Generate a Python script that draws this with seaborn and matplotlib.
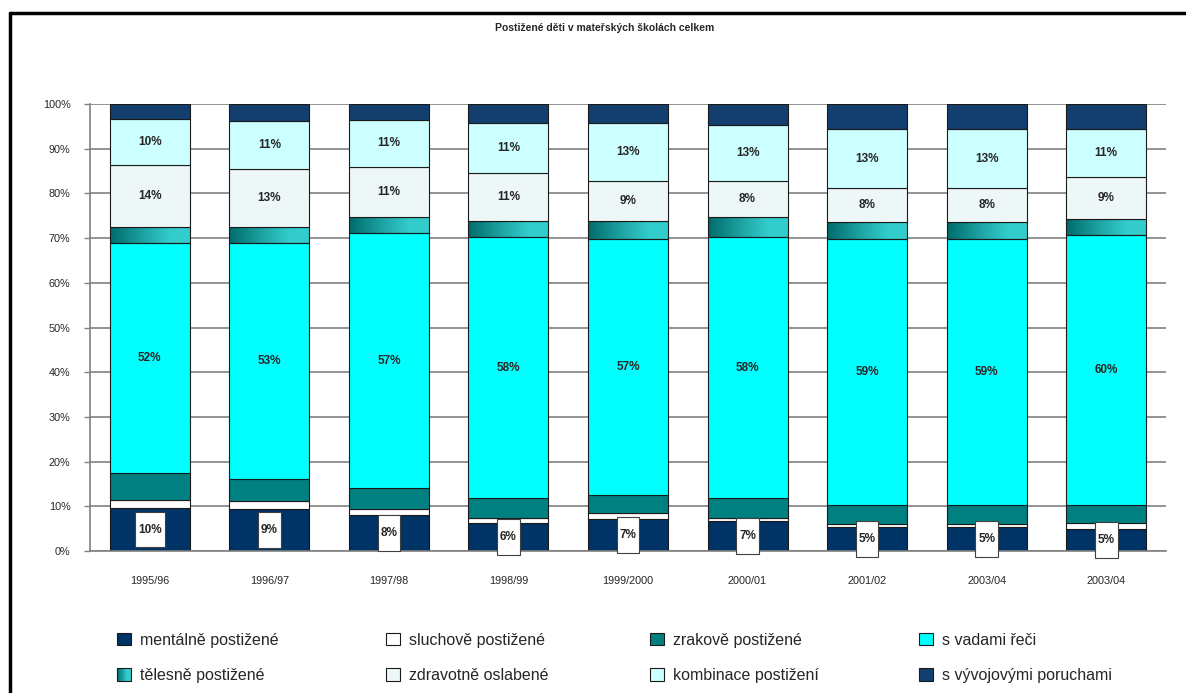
import numpy as np
import pandas as pd
import matplotlib
matplotlib.use("Agg")
import matplotlib.pyplot as plt
import seaborn as sns
import matplotlib.font_manager as fm
from matplotlib.patches import Rectangle, Patch
from matplotlib.lines import Line2D
from matplotlib.colors import LinearSegmentedColormap
from matplotlib.legend_handler import HandlerBase

# data (share of children, %)
years = ["1995/96", "1996/97", "1997/98", "1998/99", "1999/2000",
         "2000/01", "2001/02", "2003/04", "2003/04"]
mentalne = [9.6, 9.4, 8.1, 6.3, 7.2, 6.7, 5.4, 5.4, 4.9]
sluchove = [1.7, 1.8, 1.3, 1.1, 1.3, 0.7, 0.6, 0.6, 1.4]
zrakove = [6.1, 4.9, 4.7, 4.5, 4.0, 4.4, 4.3, 4.3, 3.9]
vady_reci = [51.5, 52.8, 57.0, 58.3, 57.3, 58.4, 59.4, 59.4, 60.4]
telesne = [3.6, 3.6, 3.6, 3.6, 4.0, 4.5, 4.0, 4.0, 3.6]
zdravotne = [13.9, 13.0, 11.2, 10.8, 9.0, 8.1, 7.6, 7.6, 9.4]
kombinace = [10.2, 10.7, 10.6, 11.1, 12.9, 12.6, 13.0, 13.0, 10.9]
vyvojove = [3.4, 3.8, 3.5, 4.3, 4.3, 4.6, 5.7, 5.7, 5.5]

series_names = ["mentálně postižené", "sluchově postižené", "zrakově postižené",
                "s vadami řeči", "tělesně postižené", "zdravotně oslabené",
                "kombinace postižení", "s vývojovými poruchami"]
title = "Postižené děti v mateřských školách celkem"

# colours
barvy = ["#003366", "#FFFFFF", "#008080", "#00FFFF", "#33CCCC", "#EEF7F7", "#CCFFFF", "#133F6E"]
grad_cmap = LinearSegmentedColormap.from_list(
    "telesne", [(0.0, "#006B6B"), (0.45, "#20A8A8"), (0.75, "#33CCCC"), (1.0, "#33CCCC")])

sns.set_style("white")
plt.rcParams["font.family"] = ["Liberation Sans", "DejaVu Sans"]
installed = {f.name for f in fm.fontManager.ttflist}
if "Liberation Sans Narrow" in installed:
    lab_font = ["Liberation Sans Narrow", "Liberation Sans"]
    lab_size = 11
else:
    lab_font = ["Liberation Sans", "DejaVu Sans"]
    lab_size = 8.5

W, H = 1186, 693
fig = plt.figure(figsize=(W / 100, H / 100), dpi=100)
ax = fig.add_axes([90 / W, 1 - 551 / H, (1166 - 90) / W, (551 - 104) / H])

pos = np.arange(len(years))
vrstvy = [mentalne, sluchove, zrakove, vady_reci, telesne, zdravotne, kombinace, vyvojove]
df = pd.DataFrame({"pos": pos})
for name, vals in zip(series_names, vrstvy):
    df[name] = vals

bottom = np.zeros(len(years))
spodky = []
for k, name in enumerate(series_names):
    vals = df[name].values
    sns.barplot(x=df["pos"], y=vals, bottom=bottom, color=barvy[k], saturation=1,
                width=0.67, edgecolor="#1a1a1a", linewidth=0.8, errorbar=None,
                ax=ax, zorder=2)
    if k == 4:
        # gradient fill for "tělesně postižené"
        grad = np.linspace(0, 1, 256).reshape(1, -1)
        for p in ax.containers[-1].patches:
            x0, y0 = p.get_x(), p.get_y()
            ax.imshow(grad, extent=(x0, x0 + p.get_width(), y0, y0 + p.get_height()),
                      cmap=grad_cmap, aspect="auto", zorder=1.9, interpolation="bilinear")
            p.set_facecolor("none")
    spodky.append(bottom.copy())
    bottom = bottom + vals

ax.set_xlim(-0.5, len(years) - 0.5)
ax.set_ylim(0, 100)

# value labels
for i in range(len(years)):
    v = mentalne[i]
    lab = f"{round(v)}%"
    w = 0.25 if len(lab) > 2 else 0.19
    ax.add_patch(Rectangle((i - w / 2, v / 2 - 4), w, 8, facecolor="white",
                           edgecolor="#404040", lw=0.8, zorder=4, clip_on=False))
    ax.text(i, v / 2, lab, ha="center", va="center", fontsize=lab_size,
            fontweight="bold", family=lab_font, zorder=5)
    for k in (3, 5, 6):
        vv = vrstvy[k][i]
        ax.text(i, spodky[k][i] + vv / 2, f"{round(vv)}%", ha="center", va="center",
                fontsize=lab_size, fontweight="bold", family=lab_font, zorder=5)

# axes styling
ax.set_axisbelow(True)
ax.yaxis.grid(True, color="#808080", linewidth=1.2)
ax.set_yticks(np.arange(0, 101, 10))
ax.set_yticklabels([f"{t}%" for t in range(0, 101, 10)])
ax.set_xticks(pos)
ax.set_xticklabels(years)
ax.set_xticks(np.arange(-0.5, len(years), 1), minor=True)
ax.tick_params(axis="x", which="major", length=0, pad=18, labelsize=7.8)
ax.tick_params(axis="x", which="minor", length=4, color="#808080", width=1, direction="out")
ax.tick_params(axis="y", length=4, color="#808080", width=1, pad=10, labelsize=7.8, left=True)
ax.set_xlabel("")
ax.set_ylabel("")
for s in ("top", "right"):
    ax.spines[s].set_visible(False)
for s in ("left", "bottom"):
    ax.spines[s].set_color("#808080")
    ax.spines[s].set_linewidth(1.2)

fig.text(605 / W, 1 - 28 / H, title, ha="center", va="center",
         fontsize=7.5, fontweight="bold")


# legend
class GradientHandler(HandlerBase):
    def create_artists(self, legend, orig_handle, xdescent, ydescent, width, height, fontsize, trans):
        arts = []
        n = 12
        for j in range(n):
            arts.append(Rectangle((-xdescent + j * width / n, -ydescent), width / n + 0.3, height,
                                  facecolor=grad_cmap(j / (n - 1)), edgecolor="none", transform=trans))
        arts.append(Rectangle((-xdescent, -ydescent), width, height, facecolor="none",
                              edgecolor="#1a1a1a", lw=0.8, transform=trans))
        return arts


handles = [Patch(facecolor=barvy[k], edgecolor="#1a1a1a", lw=0.8) for k in range(8)]
grad_handle = handles[4]
col_x = [117, 386, 650, 919]
for c in range(4):
    leg = fig.legend([handles[c], handles[c + 4]], [series_names[c], series_names[c + 4]],
                     loc="center left", bbox_to_anchor=(col_x[c] / W, 1 - 658 / H),
                     frameon=False, fontsize=11.5, handlelength=0.85, handleheight=0.85,
                     handletextpad=0.6, labelspacing=1.3, borderpad=0, borderaxespad=0,
                     handler_map={grad_handle: GradientHandler()})

# outer frame (left and top edge)
fig.add_artist(Line2D([10 / W, 10 / W], [0, 1 - 13 / H], color="black", lw=2.5,
                      transform=fig.transFigure))
fig.add_artist(Line2D([10 / W, 1], [1 - 13 / H, 1 - 13 / H], color="black", lw=2.5,
                      transform=fig.transFigure))

fig.savefig("out.png", dpi=100)
